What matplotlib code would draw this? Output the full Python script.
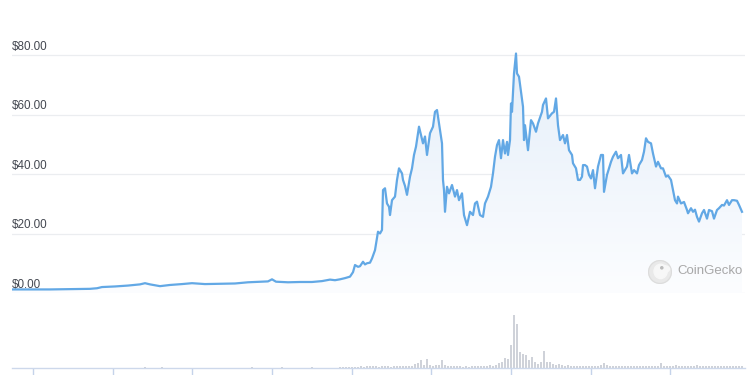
import matplotlib
matplotlib.use("Agg")
import matplotlib.pyplot as plt
import numpy as np
from matplotlib.colors import LinearSegmentedColormap
from matplotlib.patches import Circle, Ellipse

# ---------------- data ----------------
price_days = [
    0, 18, 38, 58, 78, 85, 90, 103, 116, 128,
    133, 138, 148, 158, 170, 180, 193, 208, 223, 236,
    248, 256, 260, 264, 276, 288, 300, 310, 318, 323,
    328, 333, 338, 341, 343, 346, 348, 351, 353, 355,
    358, 360, 363, 366, 368, 370, 371, 373, 375, 377,
    378, 380, 383, 385, 387, 390, 391, 393, 395, 398,
    400, 402, 404, 407, 409, 411, 413, 415, 418, 421,
    423, 425, 427, 430, 431, 432, 433, 435, 437, 440,
    443, 445, 447, 450, 452, 455, 458, 461, 463, 465,
    468, 471, 473, 476, 479, 481, 483, 485, 487, 489,
    491, 493, 495, 496, 498, 499, 500, 502, 504, 505,
    507, 509, 511, 512, 513, 516, 519, 521, 524, 526,
    530, 531, 534, 536, 540, 542, 544, 546, 548, 551,
    553, 555, 557, 560, 561, 564, 566, 568, 570, 571,
    573, 575, 577, 579, 581, 583, 586, 589, 591, 592,
    595, 599, 601, 604, 606, 609, 611, 615, 617, 620,
    622, 625, 627, 630, 632, 634, 636, 639, 641, 644,
    646, 649, 651, 654, 656, 659, 661, 663, 665, 666,
    669, 672, 675, 676, 679, 681, 683, 685, 687, 690,
    692, 695, 697, 700, 702, 705, 707, 710, 712, 715,
    717, 720, 722, 725, 727, 730]
price = [
    1.2, 1.2, 1.2, 1.3, 1.4, 1.6, 2.0, 2.2, 2.5, 2.9,
    3.3, 2.9, 2.3, 2.7, 3.0, 3.3, 3.0, 3.1, 3.2, 3.6,
    3.8, 3.9, 4.6, 3.8, 3.6, 3.7, 3.7, 4.0, 4.5, 4.3,
    4.6, 5.0, 5.5, 7.0, 9.4, 8.8, 9.0, 10.5, 9.6, 10.0,
    10.2, 11.6, 14.4, 20.6, 20.0, 21.2, 34.6, 35.2, 30.1, 29.0,
    26.2, 31.2, 32.4, 38.0, 41.9, 40.2, 38.0, 36.0, 33.0, 39.1,
    41.9, 46.4, 49.2, 55.9, 53.1, 50.3, 52.6, 46.4, 53.7, 55.9,
    60.9, 61.5, 57.0, 50.3, 38.0, 34.6, 27.3, 35.7, 33.5, 36.3,
    32.4, 34.6, 31.2, 33.5, 26.2, 22.8, 27.3, 26.2, 30.1, 30.7,
    26.2, 25.6, 30.1, 32.4, 35.7, 40.2, 45.8, 49.7, 51.4, 45.3,
    51.4, 46.9, 50.8, 46.4, 51.4, 63.7, 60.9, 73.8, 80.5, 73.8,
    72.7, 67.6, 62.6, 51.4, 56.4, 48.0, 58.1, 57.0, 54.2, 57.0,
    60.9, 63.2, 65.4, 58.7, 60.4, 60.9, 65.4, 56.4, 51.4, 53.1,
    50.3, 53.1, 48.0, 46.4, 43.6, 41.9, 38.0, 38.0, 39.1, 43.0,
    43.0, 42.5, 39.7, 38.5, 41.3, 35.2, 42.5, 46.4, 46.4, 34.0,
    39.7, 44.1, 45.8, 47.5, 45.3, 46.4, 40.2, 42.5, 46.4, 40.2,
    41.3, 40.2, 43.0, 44.7, 47.5, 52.0, 50.8, 50.3, 46.9, 42.5,
    44.1, 41.9, 41.9, 39.1, 39.5, 38.0, 34.6, 31.2, 30.1, 32.4,
    30.1, 30.6, 27.9, 26.8, 28.5, 27.3, 28.0, 25.6, 24.0, 26.8,
    27.9, 25.0, 27.9, 27.5, 25.0, 27.9, 28.5, 29.6, 29.4, 31.2,
    29.6, 31.2, 31.2, 31.0, 29.6, 27.3]

vol_days = [
    10, 40, 70, 100, 133, 150, 180, 210, 240, 270, 300,
    328, 331, 334, 337, 340, 343, 346, 349, 352, 355,
    358, 361, 364, 367, 370, 373, 376, 379, 382, 385,
    388, 391, 394, 397, 400, 403, 406, 409, 412, 415,
    418, 421, 424, 427, 430, 433, 436, 439, 442, 445,
    448, 451, 454, 457, 460, 463, 466, 469, 472, 475,
    478, 481, 484, 487, 490, 493, 496, 499, 502, 505,
    508, 511, 514, 517, 520, 523, 526, 529, 532, 535,
    538, 541, 544, 547, 550, 553, 556, 559, 562, 565,
    568, 571, 574, 577, 580, 583, 586, 589, 592, 595,
    598, 601, 604, 607, 610, 613, 616, 619, 622, 625,
    628, 631, 634, 637, 640, 643, 646, 649, 652, 655,
    658, 661, 664, 667, 670, 673, 676, 679, 682, 685,
    688, 691, 694, 697, 700, 703, 706, 709, 712, 715,
    718, 721, 724, 727, 730]
volume = [
    3, 3, 4, 5, 8, 6, 5, 5, 6, 7, 8,
    8, 10, 8, 12, 10, 15, 12, 18, 14, 20,
    16, 18, 22, 15, 25, 18, 22, 15, 20, 18,
    25, 20, 22, 18, 25, 40, 55, 77, 35, 87,
    30, 25, 35, 28, 77, 35, 25, 22, 20, 18,
    20, 15, 18, 15, 20, 22, 18, 25, 20, 22,
    28, 25, 30, 55, 65, 100, 90, 227, 530, 440,
    160, 143, 127, 77, 110, 60, 43, 60, 167, 60,
    60, 43, 35, 43, 30, 25, 28, 22, 25, 20,
    22, 18, 20, 18, 25, 22, 20, 28, 55, 30,
    25, 22, 25, 20, 18, 20, 22, 18, 20, 18,
    22, 18, 20, 18, 22, 25, 20, 50, 25, 20,
    18, 20, 30, 18, 20, 18, 22, 20, 25, 35,
    22, 20, 18, 20, 22, 18, 20, 18, 22, 20,
    18, 20, 22, 18, 20]

tick_days = [21, 101, 180, 260, 340, 419, 499, 579, 658]
price_ticks = [0, 20, 40, 60, 80]
price_labels = ["$0.00", "$20.00", "$40.00", "$60.00", "$80.00"]

# ---------------- figure ----------------
W, H = 750, 375
fig = plt.figure(figsize=(7.5, 3.75), dpi=100)
fig.patch.set_facecolor("white")

left = 12 / W
width = (745 - 12) / W
xlim = (0, 733)

# price axes: $0 at y=293px, 2.975 px per dollar
ymax = 88
ax = fig.add_axes([left, (H - 293) / H, width, ymax * 2.975 / H])
ax.set_xlim(*xlim)
ax.set_ylim(0, ymax)
ax.axis("off")

for t, lab in zip(price_ticks, price_labels):
    ax.axhline(t, color="#ebedf0", lw=0.9, zorder=0)
    ax.text(0, t + 0.7, lab, fontsize=8.4, family=["Liberation Sans", "DejaVu Sans"],
            color="#444851", ha="left", va="bottom", zorder=1, clip_on=False)

px = np.array(price_days, dtype=float)
py = np.array(price, dtype=float)

# gradient fill under the line
cmap = LinearSegmentedColormap.from_list("fillgrad", ["#fcfdff", "#e4eef9"])
grad = np.linspace(0, 1, 256).reshape(-1, 1)
im = ax.imshow(grad, aspect="auto", cmap=cmap, origin="lower",
               extent=[px.min(), px.max(), 0, 82], zorder=1)
poly = ax.fill_between(px, py, 0, color="none", lw=0)
clip = poly.get_paths()[0]
im.set_clip_path(clip, transform=ax.transData)

ax.plot(px, py, color="#62a8e5", lw=1.6, zorder=3, solid_joinstyle="round")

# watermark
axw = fig.add_axes([648 / W, (H - 284) / H, 24 / W, 24 / H])
axw.set_xlim(-1, 1)
axw.set_ylim(-1, 1)
axw.set_aspect("equal")
axw.axis("off")
axw.add_patch(Circle((0, 0), 0.95, color="#e9e9e9", zorder=1))
axw.add_patch(Circle((0, 0), 0.95, fill=False, ec="#dcdcdc", lw=0.8, zorder=2))
axw.add_patch(Ellipse((0.05, 0.05), 1.1, 1.2, color="#f7f7f7", zorder=2))
axw.add_patch(Ellipse((0.35, 0.25), 0.9, 0.55, color="#f7f7f7", zorder=2))
axw.add_patch(Circle((0.15, 0.35), 0.09, color="#bbbbbb", zorder=3))
fig.text(677 / W, (H - 271) / H, "CoinGecko", fontsize=9.5, color="#a8a8a8",
         family=["Liberation Sans", "DejaVu Sans"], ha="left", va="center")

# volume axes
axv = fig.add_axes([left, (H - 368) / H, width, 60 / H])
axv.set_xlim(*xlim)
axv.set_ylim(0, 600)
axv.bar(vol_days, volume, width=1.3, color="#cfd2d9", lw=0, zorder=2)
for s in ["top", "right", "left"]:
    axv.spines[s].set_visible(False)
axv.spines["bottom"].set_color("#cdd8eb")
axv.spines["bottom"].set_linewidth(1.0)
axv.set_yticks([])
axv.set_xticks(tick_days)
axv.set_xticklabels([])
axv.tick_params(axis="x", direction="out", length=7, width=1, color="#c5d3ea")
axv.patch.set_alpha(0)

fig.savefig("out.png", dpi=100, facecolor="white")
